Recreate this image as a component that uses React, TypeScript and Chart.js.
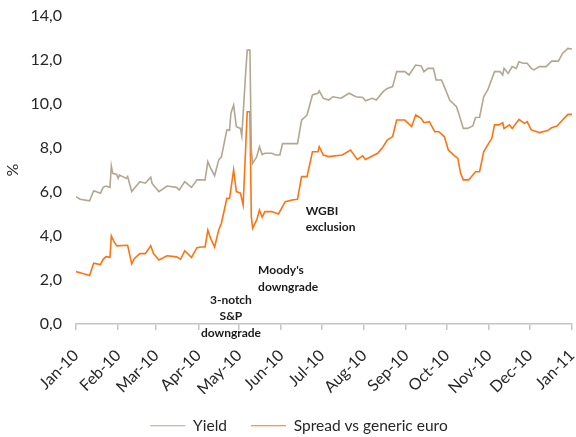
import React, { useEffect, useRef } from "react";
import { Chart, registerables } from "chart.js";

Chart.register(...registerables);

// ---- Data ----
const monthLabels = [
  "Jan-10", "Feb-10", "Mar-10", "Apr-10", "May-10", "Jun-10", "Jul-10",
  "Aug-10", "Sep-10", "Oct-10", "Nov-10", "Dec-10", "Jan-11",
];

// day offsets since 1 Jan 2010
const yieldDays = [
  0, 3, 10, 13, 18, 20, 22, 25, 26, 27, 30, 31, 32, 37, 38, 41, 43, 47, 51, 55,
  56, 61, 67, 74, 76, 80, 85, 89, 92, 95, 97, 99, 102, 105, 107, 111, 113, 114,
  116, 118, 121, 122, 125, 126, 128, 129, 130, 133, 135, 137, 139, 144, 147, 150,
  152, 163, 166, 170, 174, 178, 179, 182, 186, 189, 195, 201, 206, 211, 213, 218,
  221, 226, 229, 233, 236, 242, 245, 250, 254, 256, 259, 263, 265, 269, 272, 275,
  280, 282, 285, 288, 292, 294, 297, 300, 303, 308, 312, 314, 315, 318, 321, 324,
  326, 329, 332, 335, 337, 341, 346, 350, 355, 358, 362, 365,
];
const yieldValues = [
  5.79, 5.67, 5.6, 6.06, 5.94, 6.21, 6.27, 6.21, 7.18, 6.85, 6.8, 6.62, 6.77, 6.62,
  6.7, 6.02, 6.17, 6.47, 6.4, 6.67, 6.39, 6.02, 6.27, 6.21, 6.09, 6.47, 6.21, 6.55,
  6.55, 6.55, 7.38, 7.1, 6.74, 7.45, 7.6, 8.82, 8.8, 9.58, 9.95, 8.97, 8.89, 8.55,
  11.55, 12.45, 12.45, 7.9, 7.3, 7.6, 8.06, 7.7, 7.76, 7.76, 7.68, 7.68, 8.2, 8.2,
  9.27, 9.5, 10.41, 10.49, 10.6, 10.26, 10.18, 10.33, 10.26, 10.49, 10.33, 10.3,
  10.15, 10.26, 10.18, 10.56, 10.71, 10.79, 11.47, 11.47, 11.32, 11.77, 11.73,
  11.47, 11.62, 11.62, 11.09, 11.09, 10.64, 10.18, 9.88, 9.5, 8.89, 8.89, 9.0,
  9.39, 9.4, 10.33, 10.64, 11.47, 11.47, 11.32, 11.62, 11.39, 11.7, 11.62, 11.92,
  11.85, 11.85, 11.62, 11.55, 11.7, 11.7, 11.95, 11.95, 12.3, 12.53, 12.5,
];

const spreadDays = [
  0, 5, 10, 13, 18, 20, 22, 25, 26, 28, 30, 38, 41, 43, 47, 51, 55, 57, 61, 67,
  74, 77, 80, 85, 89, 92, 95, 97, 99, 102, 105, 107, 111, 113, 116, 118, 121, 123,
  126, 128, 129, 130, 133, 135, 137, 139, 144, 149, 154, 159, 163, 166, 170, 174,
  178, 179, 182, 186, 196, 202, 207, 211, 213, 222, 226, 229, 233, 236, 242, 247,
  250, 254, 256, 260, 264, 267, 271, 274, 278, 281, 283, 285, 289, 294, 297, 300,
  303, 306, 308, 311, 314, 315, 319, 321, 326, 330, 332, 335, 341, 347, 350, 354,
  358, 362, 365,
];
const spreadValues = [
  2.38, 2.3, 2.2, 2.76, 2.7, 2.94, 3.06, 3.03, 4.0, 3.74, 3.55, 3.58, 2.73, 2.98,
  3.2, 3.2, 3.56, 3.2, 2.91, 3.1, 3.05, 2.95, 3.33, 3.03, 3.47, 3.5, 3.5, 4.27, 3.9,
  3.5, 4.27, 4.58, 5.71, 5.71, 7.0, 6.02, 5.95, 5.41, 9.65, 9.65, 4.88, 4.35, 4.73,
  5.18, 4.85, 5.11, 5.11, 5.0, 5.56, 5.64, 5.67, 6.7, 6.7, 7.83, 7.83, 8.06, 7.68,
  7.61, 7.68, 7.91, 7.48, 7.64, 7.48, 7.76, 8.06, 8.36, 8.52, 9.27, 9.27, 8.97, 9.5,
  9.35, 9.15, 9.2, 8.74, 8.74, 8.52, 7.91, 7.68, 7.53, 6.85, 6.55, 6.55, 6.92, 6.92,
  7.83, 8.14, 8.44, 9.05, 9.05, 9.15, 8.89, 9.05, 8.89, 9.3, 9.12, 9.2, 8.82, 8.7,
  8.79, 8.92, 9.0, 9.27, 9.53, 9.53,
];

const seriesLabels = ["Yield", "Spread vs generic euro"];
const seriesColors = ["#b2a792", "#ff7310"];

const annotationTexts = [
  ["3-notch", "S&P", "downgrade"],
  ["Moody's", "downgrade"],
  ["WGBI", "exclusion"],
];
const annotationDays = [114, 134, 169];
const annotationValues = [1.09, 2.45, 5.15];
const annotationAligns: CanvasTextAlign[] = ["center", "left", "left"];

const yMin = 0;
const yMax = 14;
const yStep = 2;

// ---- Helpers ----
const DAY = 86400000;
const start = Date.UTC(2010, 0, 1);
const monthDays = monthLabels.map((_, i) => Math.round((Date.UTC(2010, i, 1) - start) / DAY));

const FONT = "Lato, 'Open Sans', sans-serif";
const TEXT_COLOR = "#262626";
const AXIS_COLOR = "#c4c4c4";
const LEGEND_SHIFT = 13;

const annotationPlugin = {
  id: "textNotes",
  afterDraw(chart: any) {
    const { ctx, scales } = chart;
    const xs = scales.x;
    const ys = scales.y;
    ctx.save();
    ctx.font = `bold 12px ${FONT}`;
    ctx.fillStyle = "#1a1a1a";
    ctx.textBaseline = "middle";
    annotationTexts.forEach((lines, i) => {
      const x = xs.getPixelForValue(annotationDays[i]);
      const y = ys.getPixelForValue(annotationValues[i]);
      ctx.textAlign = annotationAligns[i];
      lines.forEach((t, j) => ctx.fillText(t, x, y + j * 16.6));
    });
    ctx.restore();
  },
};

const legendShiftPlugin = {
  id: "legendShift",
  afterLayout(chart: any) {
    if (chart.legend) {
      chart.legend.left += LEGEND_SHIFT;
      chart.legend.right += LEGEND_SHIFT;
    }
  },
};

export default function App() {
  const ref = useRef<HTMLCanvasElement | null>(null);

  useEffect(() => {
    if (!ref.current) return;
    const chart = new Chart(ref.current, {
      type: "line",
      data: {
        datasets: [
          {
            label: seriesLabels[0],
            data: yieldDays.map((d, i) => ({ x: d, y: yieldValues[i] })),
            borderColor: seriesColors[0],
            backgroundColor: seriesColors[0],
            borderWidth: 1.6,
            pointRadius: 0,
            fill: false,
            tension: 0,
          },
          {
            label: seriesLabels[1],
            data: spreadDays.map((d, i) => ({ x: d, y: spreadValues[i] })),
            borderColor: seriesColors[1],
            backgroundColor: seriesColors[1],
            borderWidth: 1.6,
            pointRadius: 0,
            fill: false,
            tension: 0,
          },
        ],
      },
      options: {
        animation: false,
        responsive: false,
        layout: { padding: { left: 0, right: 4, top: 16, bottom: -6.5 } },
        plugins: {
          tooltip: { enabled: false },
          legend: {
            position: "bottom",
            labels: {
              boxWidth: 35,
              boxHeight: 1,
              padding: 24,
              color: TEXT_COLOR,
              font: { family: FONT, size: 15.5 },
              generateLabels: (c: any) =>
                c.data.datasets.map((ds: any, i: number) => ({
                  text: ds.label,
                  fillStyle: ds.borderColor,
                  strokeStyle: ds.borderColor,
                  lineWidth: 0,
                  fontColor: TEXT_COLOR,
                  hidden: false,
                  datasetIndex: i,
                })),
            },
          },
        },
        scales: {
          x: {
            type: "linear",
            min: monthDays[0],
            max: monthDays[monthDays.length - 1],
            afterBuildTicks: (s: any) => {
              s.ticks = monthDays.map((v) => ({ value: v }));
            },
            afterFit: (s: any) => {
              s.height = 70;
              s.paddingLeft = 0;
              s.paddingRight = 0;
            },
            ticks: {
              autoSkip: false,
              minRotation: 45,
              maxRotation: 45,
              padding: 16,
              color: TEXT_COLOR,
              font: { family: FONT, size: 16 },
              callback: (_v: any, i: number) => monthLabels[i],
            },
            grid: {
              drawOnChartArea: false,
              drawTicks: true,
              tickLength: 6,
              color: AXIS_COLOR,
              lineWidth: 1.5,
            },
            border: { display: true, color: AXIS_COLOR, width: 1.5 },
          },
          y: {
            min: yMin,
            max: yMax,
            afterFit: (s: any) => {
              s.width = 76;
              s.paddingTop = 0;
              s.paddingBottom = 0;
            },
            ticks: {
              stepSize: yStep,
              padding: 14,
              color: TEXT_COLOR,
              font: { family: FONT, size: 16 },
              callback: (v: any) => Number(v).toFixed(1).replace(".", ","),
            },
            grid: { display: false, drawTicks: false },
            border: { display: false },
            title: {
              display: true,
              text: "%",
              color: TEXT_COLOR,
              font: { family: FONT, size: 16 },
              padding: { top: 3, bottom: 0 },
            },
          },
        },
      },
      plugins: [annotationPlugin, legendShiftPlugin],
    });
    return () => chart.destroy();
  }, []);

  return (
    <div style={{ position: "absolute", left: 0, top: 0, width: 576, height: 437, background: "#fff" }}>
      <canvas ref={ref} width={576} height={437} style={{ display: "block" }} />
    </div>
  );
}
